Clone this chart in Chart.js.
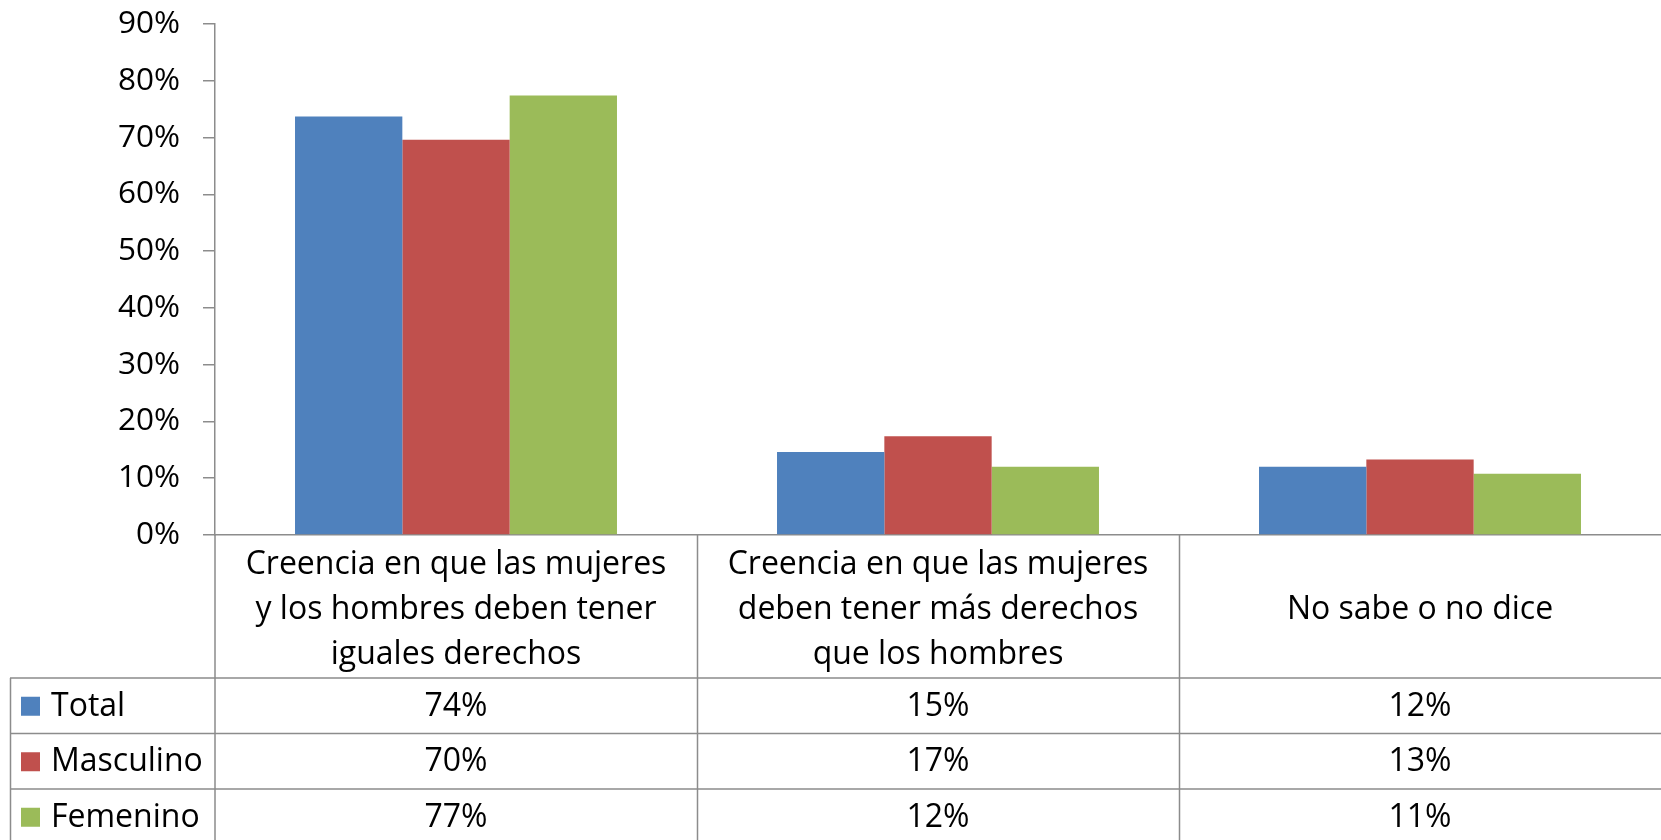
<!DOCTYPE html>
<html>
<head>
<meta charset="utf-8">
<script src="https://cdn.jsdelivr.net/npm/chart.js@4.4.1/dist/chart.umd.min.js"></script>
<style>
  html, body { margin: 0; padding: 0; background: #fff; overflow: hidden; }
  #wrap { width: 1661px; height: 840px; }
</style>
</head>
<body>
<div id="wrap"><canvas id="c"></canvas></div>
<script>
// data
const categories = [
  ["Creencia en que las mujeres", "y los hombres deben tener", "iguales derechos"],
  ["Creencia en que las mujeres", "deben tener más derechos", "que los hombres"],
  ["No sabe o no dice"]
];
const seriesNames = ["Total", "Masculino", "Femenino"];
const totalValues = [73.7, 14.6, 12.0];
const masculinoValues = [69.6, 17.4, 13.3];
const femeninoValues = [77.4, 12.0, 10.8];
const totalLabels = ["74%", "15%", "12%"];
const masculinoLabels = ["70%", "17%", "13%"];
const femeninoLabels = ["77%", "12%", "11%"];
const colors = ["#4F81BD", "#C0504D", "#9BBB59"];

const FONT = "'Open Sans', sans-serif";
const lineColor = "#8c8c8c";

// data table under the chart, drawn against the x scale
const dataTable = {
  id: "dataTable",
  afterDraw(chart) {
    const ctx = chart.ctx;
    const x = chart.scales.x;
    const area = chart.chartArea;
    const H = chart.height, W = chart.width;
    const rows = [totalLabels, masculinoLabels, femeninoLabels];
    const rowTop = 678, rowH = 55.5;
    const half = (x.getPixelForValue(1) - x.getPixelForValue(0)) / 2;

    ctx.save();
    ctx.strokeStyle = lineColor;
    ctx.lineWidth = 1.5;
    ctx.beginPath();
    // y axis continued down, category dividers
    ctx.moveTo(area.left, area.bottom); ctx.lineTo(area.left, H);
    for (let i = 1; i < categories.length; i++) {
      const px = Math.round(x.getPixelForValue(i) - half) + 0.5;
      ctx.moveTo(px, area.bottom); ctx.lineTo(px, H);
    }
    // row lines
    for (let r = 0; r < rows.length; r++) {
      const y = rowTop + r * rowH;
      ctx.moveTo(10, y); ctx.lineTo(W, y);
    }
    ctx.moveTo(10.5, rowTop); ctx.lineTo(10.5, H);
    ctx.stroke();

    ctx.font = "32px " + FONT;
    ctx.fillStyle = "#000";
    ctx.textBaseline = "middle";
    rows.forEach((vals, r) => {
      const cy = rowTop + r * rowH + rowH / 2 + 1;
      ctx.fillStyle = colors[r];
      ctx.fillRect(21, cy - 10, 19, 19);
      ctx.fillStyle = "#000";
      ctx.textAlign = "left";
      ctx.fillText(seriesNames[r], 51, cy);
      ctx.textAlign = "center";
      vals.forEach((v, i) => ctx.fillText(v, x.getPixelForValue(i), cy));
    });
    ctx.restore();
  }
};

function draw() {
  new Chart(document.getElementById("c"), {
    type: "bar",
    data: {
      labels: categories,
      datasets: [
        { label: seriesNames[0], data: totalValues, backgroundColor: colors[0] },
        { label: seriesNames[1], data: masculinoValues, backgroundColor: colors[1] },
        { label: seriesNames[2], data: femeninoValues, backgroundColor: colors[2] }
      ]
    },
    options: {
      responsive: true,
      maintainAspectRatio: false,
      animation: false,
      devicePixelRatio: 1,
      layout: { padding: { top: 24, left: 0, right: 0, bottom: 0 } },
      datasets: { bar: { categoryPercentage: 0.668, barPercentage: 1.0 } },
      plugins: { legend: { display: false }, tooltip: { enabled: false } },
      scales: {
        x: {
          grid: { display: false, drawTicks: false },
          border: { display: true, color: lineColor, width: 1.5 },
          ticks: {
            autoSkip: false, maxRotation: 0, minRotation: 0, padding: 7,
            color: "#000",
            font: { family: FONT, size: 32, lineHeight: "45px" },
            callback: function (v, i) {
              const l = categories[i];
              return l.length === 1 ? ["", l[0], ""] : l;
            }
          },
          afterFit(s) { s.height = 305; s.paddingLeft = 0; s.paddingRight = 0; }
        },
        y: {
          min: 0, max: 90,
          grid: { drawOnChartArea: false, drawTicks: true, tickLength: 12, color: lineColor, lineWidth: 1.5 },
          border: { display: true, color: lineColor, width: 1.5 },
          ticks: {
            stepSize: 10, padding: 23, color: "#000",
            font: { family: FONT, size: 31.5 },
            callback: v => v + "%"
          },
          afterFit(s) { s.width = 215; s.paddingTop = 0; s.paddingBottom = 0; }
        }
      }
    },
    plugins: [dataTable]
  });
}

document.fonts.load("32px 'Open Sans'").then(draw, draw);
</script>
</body>
</html>
